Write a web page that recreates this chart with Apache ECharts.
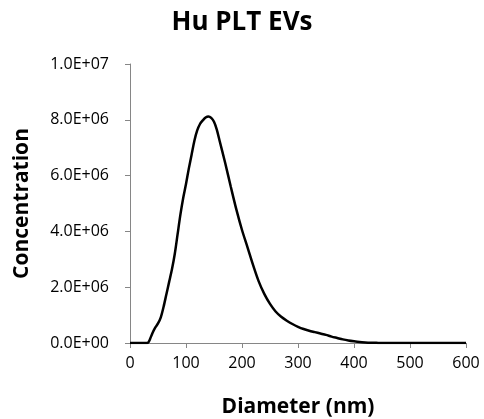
<!DOCTYPE html>
<html>
<head>
<meta charset="utf-8">
<script src="https://cdn.jsdelivr.net/npm/echarts@6/dist/echarts.min.js"></script>
<style>html,body{margin:0;padding:0;background:#fff}#c{width:484px;height:419px}</style>
</head>
<body>
<div id="c"></div>
<script>
var diameters = [0,10,20,30,33,36,40,45,50,55,60,65,70,75,80,85,90,95,100,105,110,115,120,125,130,135,140,145,150,155,160,170,180,190,200,210,220,230,240,250,260,270,280,290,300,310,320,330,340,350,360,370,380,390,400,410,420,430,440,450,500,550,600];
var concentrations = [0,0,0,0,0.03e6,0.15e6,0.35e6,0.55e6,0.7e6,0.92e6,1.3e6,1.75e6,2.2e6,2.65e6,3.2e6,3.9e6,4.6e6,5.2e6,5.7e6,6.25e6,6.75e6,7.25e6,7.62e6,7.85e6,7.98e6,8.08e6,8.12e6,8.07e6,7.93e6,7.65e6,7.25e6,6.45e6,5.6e6,4.78e6,4.05e6,3.42e6,2.78e6,2.2e6,1.75e6,1.4e6,1.13e6,0.94e6,0.8e6,0.68e6,0.58e6,0.5e6,0.44e6,0.39e6,0.34e6,0.29e6,0.23e6,0.18e6,0.13e6,0.09e6,0.06e6,0.035e6,0.02e6,0.01e6,0.005e6,0,0,0,0];
var title = "Hu PLT EVs";
var xName = "Diameter (nm)";
var yName = "Concentration";

function sci(v){
  if (v === 0) return "0.0E+00";
  var e = Math.floor(Math.log10(Math.abs(v)) + 1e-9);
  var m = v / Math.pow(10, e);
  var es = (e < 0 ? "-" : "+") + (Math.abs(e) < 10 ? "0" : "") + Math.abs(e);
  return m.toFixed(1) + "E" + es;
}

var data = diameters.map(function(d,i){return [d, concentrations[i]];});
var chart = echarts.init(document.getElementById('c'));
var axisColor = '#868686';
chart.setOption({
  animation: false,
  title: {text: title, left: 'center', top: 5,
    textStyle: {fontFamily: 'Open Sans', fontWeight: 'bold', fontSize: 26, color: '#000'}},
  grid: {left: 130, right: 18, top: 64, bottom: 76, containLabel: false, outerBoundsMode: 'none'},
  xAxis: {type: 'value', min: 0, max: 600, interval: 100,
    name: xName, nameLocation: 'middle', nameGap: 54,
    nameTextStyle: {fontFamily: 'Open Sans', fontWeight: 'bold', fontSize: 21, color: '#000'},
    axisLine: {show: true, lineStyle: {color: axisColor, width: 1}},
    axisTick: {show: true, inside: false, length: 5, lineStyle: {color: axisColor}},
    axisLabel: {margin: 12, fontFamily: 'Open Sans', fontSize: 16, color: '#000'},
    splitLine: {show: false}},
  yAxis: {type: 'value', min: 0, max: 1e7, interval: 2e6,
    name: yName, nameLocation: 'middle', nameGap: 97, nameRotate: 90,
    nameTextStyle: {fontFamily: 'Open Sans', fontWeight: 'bold', fontSize: 21, color: '#000'},
    axisLine: {show: true, lineStyle: {color: axisColor, width: 1}},
    axisTick: {show: true, inside: false, length: 5, lineStyle: {color: axisColor}},
    axisLabel: {margin: 21, fontFamily: 'Open Sans', fontSize: 16, color: '#000', formatter: sci},
    splitLine: {show: false}},
  series: [{type: 'line', data: data, smooth: 0.3, showSymbol: false,
    lineStyle: {color: '#000', width: 2.5}}]
});
</script>
</body>
</html>
